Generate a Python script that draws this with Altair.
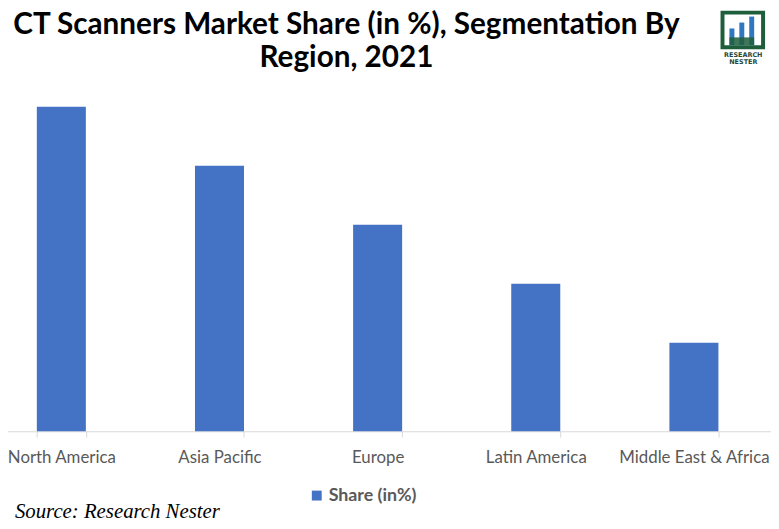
import altair as alt
import pandas as pd

regions = ["North America", "Asia Pacific", "Europe", "Latin America", "Middle East & Africa"]
shares = [5.5, 4.5, 3.5, 2.5, 1.5]
series_name = "Share (in%)"
title_lines = ["CT Scanners Market Share (in %), Segmentation By", "Region, 2021"]
source_text = "Source: Research Nester"
logo_lines = ["RESEARCH", "NESTER"]

df = pd.DataFrame({"Region": regions, "Share": shares, "Series": [series_name] * len(regions)})

W, H = 771, 425
font = "Lato, Open Sans, sans-serif"

bars = alt.Chart(df).mark_bar(color="#4472C4").encode(
    x=alt.X("Region:N", sort=regions, title=None,
            scale=alt.Scale(range=[-26, 773], paddingInner=0.69, paddingOuter=0.345),
            axis=alt.Axis(labelAngle=0, labelFont=font, labelFontSize=17, labelColor="#595959",
                          domainColor="#D9D9D9", tickColor="#D9D9D9", tickSize=6,
                          tickBand="extent", labelPadding=13, grid=False)),
    y=alt.Y("Share:Q", axis=None, scale=alt.Scale(domain=[0, 5.5 * 425 / 328], nice=False)),
    color=alt.Color("Series:N", scale=alt.Scale(range=["#4472C4"]),
                    legend=alt.Legend(title=None, orient="none", legendX=303, legendY=481,
                                      symbolType="square", symbolSize=100, symbolStrokeWidth=0,
                                      labelFont=font, labelFontSize=18, labelFontWeight="bold",
                                      labelColor="#595959", labelOffset=3)),
)

title = alt.Chart(pd.DataFrame({"t": [title_lines]})).mark_text(
    font=font, fontSize=30, fontWeight="bold", color="#000000", align="center",
    baseline="alphabetic", lineHeight=33
).encode(x=alt.value(342), y=alt.value(24), text="t:N")

source = alt.Chart(pd.DataFrame({"t": [source_text]})).mark_text(
    font="Liberation Serif, DejaVu Serif, serif", fontSize=21, fontStyle="italic",
    color="#000000", align="left", baseline="alphabetic"
).encode(x=alt.value(7), y=alt.value(513), text="t:N")

logo_frame = alt.Chart(pd.DataFrame({"a": [0]})).mark_rect(
    fill="white", stroke="#1E5E3B", strokeWidth=4
).encode(x=alt.value(722), x2=alt.value(763), y=alt.value(2), y2=alt.value(37))

logo_bar1 = alt.Chart(pd.DataFrame({"a": [0]})).mark_rect(fill="#2F78C0").encode(
    x=alt.value(729), x2=alt.value(734), y=alt.value(18), y2=alt.value(35))
logo_bar2 = alt.Chart(pd.DataFrame({"a": [0]})).mark_rect(fill="#2F78C0").encode(
    x=alt.value(739), x2=alt.value(744), y=alt.value(12), y2=alt.value(35))
logo_bar3 = alt.Chart(pd.DataFrame({"a": [0]})).mark_rect(fill="#2F78C0").encode(
    x=alt.value(749), x2=alt.value(754), y=alt.value(6), y2=alt.value(35))
logo_base = alt.Chart(pd.DataFrame({"a": [0]})).mark_rect(fill="#1E5E3B", opacity=0.85).encode(
    x=alt.value(729), x2=alt.value(754), y=alt.value(27), y2=alt.value(35))

logo_text = alt.Chart(pd.DataFrame({"t": [logo_lines]})).mark_text(
    font="DejaVu Sans, sans-serif", fontSize=6.5, fontWeight="bold", color="#1F4A3A",
    align="center", baseline="top", lineHeight=7
).encode(x=alt.value(743), y=alt.value(42), text="t:N")

chart = alt.layer(bars, title, source, logo_frame, logo_bar1, logo_bar2, logo_bar3,
                  logo_base, logo_text).properties(
    width=W, height=H, autosize=alt.AutoSizeParams(type="none"),
    padding={"left": 0, "top": 0, "right": 0, "bottom": 88}
).configure(background="white").configure_view(stroke=None)

chart.save("out.html", embed_options={"renderer": "svg", "actions": False})
